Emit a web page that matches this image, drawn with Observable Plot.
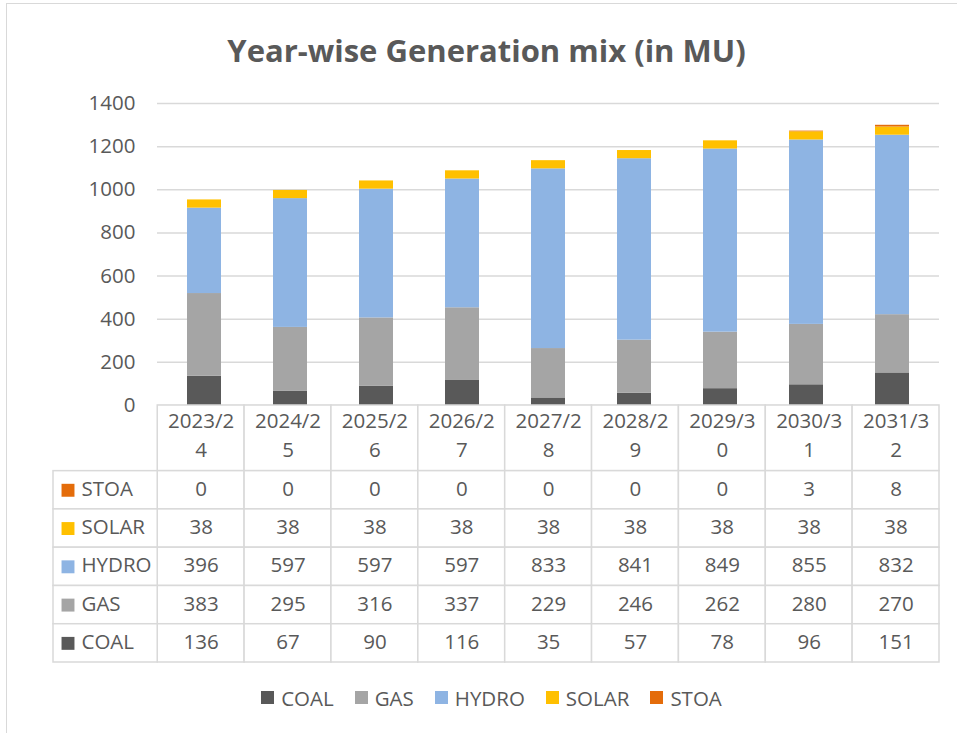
<!DOCTYPE html>
<html>
<head>
<meta charset="utf-8">
<script src="https://cdn.jsdelivr.net/npm/d3@7"></script>
<script src="https://cdn.jsdelivr.net/npm/@observablehq/plot@0.6"></script>
<style>
  body { margin: 0; background: #fff; }
  #root { position: relative; width: 957px; height: 733px; overflow: hidden; font-family: "Open Sans", sans-serif; color: #595959; background: #fff; }
  #frame { position: absolute; left: 6px; top: 3px; width: 1000px; height: 1000px; border-top: 1.5px solid #d9d9d9; border-left: 1.5px solid #d9d9d9; }
  #title { position: absolute; left: 0; width: 973px; top: 28px; text-align: center; font-weight: 700; font-size: 31px; line-height: 44px; color: #595959; }
  #chart { position: absolute; left: 0; top: 85px; }
  #table { position: absolute; left: 0; top: 404px; }
  #legend { position: absolute; left: 0; width: 1004px; top: 681px; display: flex; justify-content: center; }
  #legend div, #legend span { font-family: "Open Sans", sans-serif !important; font-size: 20.5px !important; color: #595959 !important; line-height: 26px; }
  #legend svg { margin-right: 7px !important; }
  #legend span { margin-right: 21px !important; }
</style>
</head>
<body>
<div id="root">
  <div id="frame"></div>
  <div id="title">Year-wise Generation mix (in MU)</div>
  <div id="chart"></div>
  <div id="table"></div>
  <div id="legend"></div>
</div>
<script>
// ---- data ----
const years = ["2023/24", "2024/25", "2025/26", "2026/27", "2027/28", "2028/29", "2029/30", "2030/31", "2031/32"];
const series = ["COAL", "GAS", "HYDRO", "SOLAR", "STOA"];
const colors = ["#595959", "#a5a5a5", "#8eb4e3", "#ffc000", "#e46c0a"];
const coal  = [136, 67, 90, 116, 35, 57, 78, 96, 151];
const gas   = [383, 295, 316, 337, 229, 246, 262, 280, 270];
const hydro = [396, 597, 597, 597, 833, 841, 849, 855, 832];
const solar = [38, 38, 38, 38, 38, 38, 38, 38, 38];
const stoa  = [0, 0, 0, 0, 0, 0, 0, 3, 8];
const yTicks = [0, 200, 400, 600, 800, 1000, 1200, 1400];
const tableRows = ["STOA", "SOLAR", "HYDRO", "GAS", "COAL"];

const values = {COAL: coal, GAS: gas, HYDRO: hydro, SOLAR: solar, STOA: stoa};
const data = series.flatMap(s => years.map((y, i) => ({year: y, series: s, value: values[s][i]})));

const font = {fontFamily: "Open Sans, sans-serif", fontSize: "20px", color: "#595959", background: "transparent", overflow: "visible"};

// ---- stacked bar chart ----
const chart = Plot.plot({
  width: 957, height: 322,
  marginTop: 18, marginBottom: 2, marginLeft: 157, marginRight: 18,
  style: font,
  x: {domain: years, paddingInner: 0.6, paddingOuter: 0.3, axis: null},
  y: {domain: [0, 1400], axis: null},
  color: {domain: series, range: colors},
  marks: [
    Plot.gridY(yTicks, {stroke: "#d9d9d9", strokeOpacity: 1, strokeWidth: 1.5}),
    Plot.axisY(yTicks, {label: null, tickSize: 0, tickPadding: 22, fontSize: 20.5, fill: "#595959", tickFormat: d => String(d)}),
    Plot.barY(data, {x: "year", y: "value", fill: "series", order: series})
  ]
});
document.getElementById("chart").appendChild(chart);

// ---- data table ----
const H = 1.715; // header row height, in row units
const header = years.map((y, i) => ({x1: i, x2: i + 1, y1: 0, y2: H, text: y.slice(0, 6) + "\n" + y.slice(6)}));
const labels = tableRows.map((s, r) => ({x1: -1.2, x2: 0, y1: H + r, y2: H + r + 1, series: s}));
const cells = tableRows.flatMap((s, r) => years.map((y, i) => ({x1: i, x2: i + 1, y1: H + r, y2: H + r + 1, text: String(values[s][i])})));

const table = Plot.plot({
  width: 957, height: 261,
  marginTop: 1, marginBottom: 3, marginLeft: 53, marginRight: 18,
  style: font,
  x: {domain: [-1.2, 9], axis: null},
  y: {domain: [0, H + tableRows.length], reverse: true, axis: null},
  color: {domain: series, range: colors},
  marks: [
    Plot.rect(header.concat(cells), {x1: "x1", x2: "x2", y1: "y1", y2: "y2", fill: "white", stroke: "#d9d9d9", strokeWidth: 1.5}),
    Plot.rect(labels, {x1: "x1", x2: "x2", y1: "y1", y2: "y2", fill: "white", stroke: "#d9d9d9", strokeWidth: 1.5}),
    Plot.text(header, {x: d => (d.x1 + d.x2) / 2, y: d => (d.y1 + d.y2) / 2, dy: -5, text: "text", fontSize: 20.5, fill: "#595959", lineHeight: 1.43}),
    Plot.text(cells, {x: d => (d.x1 + d.x2) / 2, y: d => (d.y1 + d.y2) / 2, dy: -1, text: "text", fontSize: 20.5, fill: "#595959"}),
    Plot.dot(labels, {x: "x1", y: d => (d.y1 + d.y2) / 2, dx: 14.5, symbol: "square", r: 7.3, fill: "series", stroke: null}),
    Plot.text(labels, {x: "x1", y: d => (d.y1 + d.y2) / 2, dx: 28, dy: -1, text: "series", textAnchor: "start", fontSize: 20.5, fill: "#595959"})
  ]
});
document.getElementById("table").appendChild(table);

// ---- legend ----
const legend = Plot.legend({color: {type: "categorical", domain: series, range: colors}, swatchSize: 13});
document.getElementById("legend").appendChild(legend);
</script>
</body>
</html>
